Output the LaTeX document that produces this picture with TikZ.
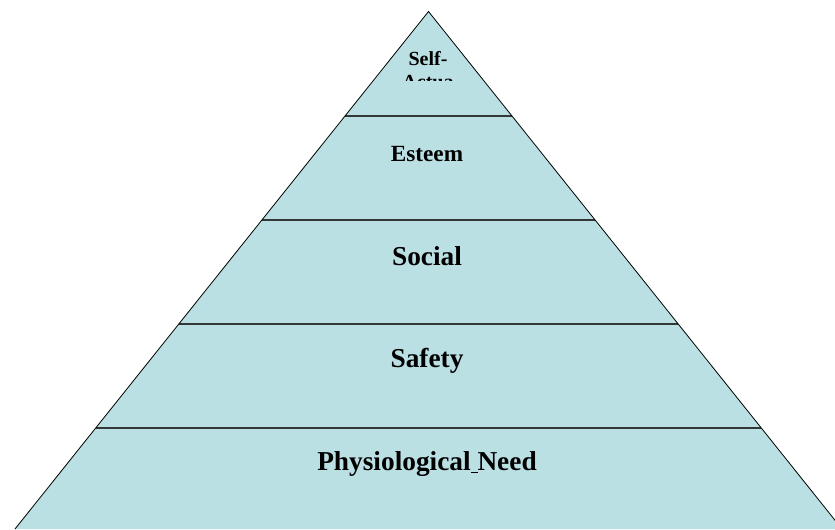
\documentclass[tikz,border=0pt]{standalone}
\usepackage{fontspec}
\setmainfont{Liberation Serif}
\usetikzlibrary{calc}
\definecolor{pyrfill}{RGB}{187,224,228}
\definecolor{levelline}{RGB}{50,56,56}
\tikzset{
    level/.style = {line width=1.5pt, color=levelline},
    lbl/.style = {font=\bfseries\fontsize{20.5}{24}\selectfont},
    lblsmall/.style = {font=\bfseries\fontsize{17.4}{20}\selectfont},
    lbltop/.style = {font=\bfseries\fontsize{15}{17.3}\selectfont, align=center}
}
\begin{document}
\begin{tikzpicture}[x=0.75pt, y=-0.75pt]
        \useasboundingbox (0,0) rectangle (835,529);
        \clip (0,0) rectangle (835,529);
        \coordinate (top) at (428.5,11.5);
        \coordinate (bl) at (15,529);
        \coordinate (br) at (842,529);
        \fill[pyrfill] (top) -- (bl) -- (br) -- cycle;
        \foreach \t in {0.201, 0.402, 0.603, 0.805}
            \draw[level] ($(top)!\t!(bl)$) -- ($(top)!\t!(br)$);
        \draw[line width=0.6pt] (bl) -- (top) -- (br);
        \begin{scope}
            \clip (380,40) rectangle (480,80.5);
            \node[lbltop] (selfact) at (428,70) {Self-\\Actua};
        \end{scope}
        \node[lblsmall] (esteem) at (427,154) {Esteem};
        \node[lbl] (social) at (427,256) {Social};
        \node[lbl] (safety) at (427,361) {Safety};
        \node[lbl] (physio) at (427,464) {Physiological\underline{\ }Need};
    \end{tikzpicture}
\end{document}
